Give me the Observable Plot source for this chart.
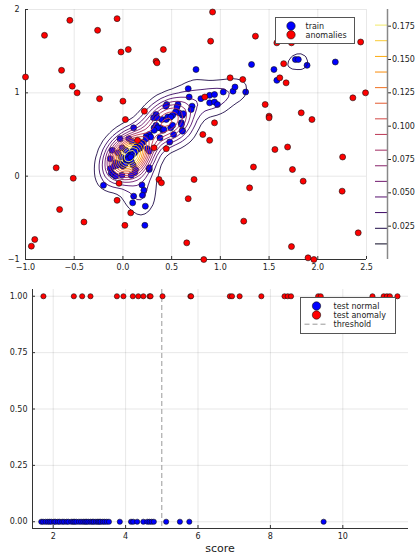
<!DOCTYPE html>
<html><head><meta charset="utf-8">
<script src="https://cdn.jsdelivr.net/npm/d3@7"></script>
<script src="https://cdn.jsdelivr.net/npm/@observablehq/plot@0.6"></script>
<style>
body{margin:0;background:#fff;font-family:"DejaVu Sans",sans-serif;}
#wrap{position:relative;width:417px;height:555px;overflow:hidden;}
.abs{position:absolute;left:0;top:0;}
.legend{position:absolute;border:1px solid #555;background:#fff;box-sizing:border-box;}
.legend svg{display:block;}
</style></head><body><div id="wrap"></div>
<script>
// ---------- data ----------
const trainPts = [
 [0.75,1.28],[0.67,1.05],[0.68,0.95],[0.80,0.93],[0.89,0.97],[0.45,0.86],[0.44,0.84],[0.565,0.86],[0.71,0.84],[0.70,0.80],
 [0.61,0.73],[0.575,0.76],[0.48,0.71],[0.34,0.74],[0.315,0.70],[0.40,0.68],[0.60,0.64],[0.61,0.55],[0.11,0.58],[-0.03,0.45],
 [0.38,0.58],[0.41,0.55],[0.38,0.46],[0.49,0.58],[0.27,0.50],[0.24,0.48],[0.32,0.58],[1.32,1.34],[1.55,1.28],[1.58,1.15],
 [1.77,1.40],[1.80,1.40],[1.89,1.33],[2.18,1.37],[1.03,1.01],[1.13,1.02],[1.15,1.07],[1.26,1.01],[0.94,0.98],[0.89,0.88],
 [0.94,0.89],[0.97,0.86],[0.555,0.83],[0.54,0.77],[0.51,0.73],[0.445,0.68],[0.62,0.75],[0.35,0.70],[0.34,0.61],[0.42,0.56],
 [0.52,0.50],[0.48,0.41],[-0.20,-0.11],[0.195,-0.105],[0.27,0.08],[0.11,-0.24],[0.10,-0.32],[0.23,-0.36],[0.225,-0.59],[-0.11,0.31],
 [-0.13,0.21],[-0.13,0.09],[-0.12,0.04],[-0.10,0.02],[-0.075,0.16],[-0.09,0.12],[-0.055,0.13],[-0.035,0.15],[-0.02,0.23],[-0.05,0.28],
 [-0.01,0.34],[0.05,0.22],[0.06,0.21],[0.075,0.19],[0.03,0.21],[0.035,0.19],[0.09,0.17],[0.105,0.13],[0.13,0.08],[0.12,0.04],
 [0.085,0.01],[-0.01,0.01],[-0.075,0.0],[0.14,0.36],[0.16,0.36],[0.18,0.34],[0.165,0.33],[0.25,0.33],[0.27,0.30],[0.285,0.47],
 [0.355,0.58],[0.32,0.55],[0.46,0.71],[0.49,0.71],[0.61,0.54],[0.60,0.62],[0.51,0.61],[0.27,0.10],[0.06,0.45],[0.09,0.42],
 [0.03,0.31],[0.215,-0.17],[0.20,-0.23],[0.08,0.27],[0.10,0.30],[0.07,0.25],[0.12,0.33],[0.05,0.24],
 [0.0,0.12],[0.03,0.16],[0.06,0.20],[0.09,0.24],[0.12,0.28],[0.15,0.32],[0.18,0.37],[0.21,0.41],[0.24,0.45],[0.04,0.18],
 [0.07,0.22],[0.10,0.26],[0.13,0.30],[0.02,0.14],[0.16,0.34],[0.05,0.20],[0.08,0.23],[0.19,0.39]
];
const anomalyPts = [
 [-1.0,1.19],[-0.805,1.69],[-0.545,1.87],[-0.63,1.27],[-0.52,1.08],[-0.47,1.00],[-0.26,1.75],[-0.24,0.93],[-0.06,1.89],[-0.02,1.49],
 [0.055,1.52],[0.0,0.90],[0.025,0.68],[0.22,0.78],[0.34,1.38],[0.35,1.36],[0.415,1.52],[0.15,0.43],[0.82,0.50],[0.90,1.62],
 [0.84,0.95],[0.92,1.97],[1.36,1.68],[1.58,1.60],[1.73,1.60],[2.44,1.61],[1.65,1.35],[1.10,1.18],[1.23,1.16],[1.61,1.18],
 [1.675,1.12],[2.36,0.94],[2.49,1.00],[1.46,0.86],[1.50,0.72],[1.50,0.70],[1.83,0.76],[1.94,0.68],[0.94,0.64],[0.89,0.43],
 [-0.685,0.10],[-0.51,-0.025],[-0.65,-0.40],[-0.40,-0.55],[-0.905,-0.76],[-0.94,-0.84],[-0.06,-0.29],[-0.04,-0.085],[0.08,-0.44],[0.02,-0.59],
 [0.32,0.34],[0.445,0.33],[0.37,-0.04],[0.395,-0.08],[0.73,-0.04],[0.67,-0.27],[0.655,-0.80],[0.83,-1.0],[1.56,0.32],[1.69,0.35],
 [2.255,0.23],[1.34,0.11],[1.74,0.08],[1.85,-0.06],[1.30,-0.14],[2.25,-0.18],[1.24,-0.54],[2.415,-0.68],[1.73,-0.845],[1.90,-0.98],[1.96,-1.0]
];
const densityLevels = [0.0117,0.0234,0.0352,0.0469,0.0586,0.0703,0.082,0.0938,0.1055,0.1172,0.1289,0.1406,0.1523,0.1641,0.1758];
const colorbarTicks = [0.025,0.05,0.075,0.1,0.125,0.15,0.175];
const topXTicks = [-1,-0.5,0,0.5,1,1.5,2,2.5];
const topYTicks = [-1,0,1,2];

const testNormalScores = [1.67,1.72,1.79,1.85,1.90,1.95,2.02,2.06,2.13,2.18,2.25,2.30,2.37,2.42,2.50,2.55,2.59,2.64,2.71,2.77,
 2.83,2.88,2.92,2.97,3.03,3.08,3.12,3.18,3.23,3.27,3.31,3.37,3.42,3.48,3.54,3.84,4.15,4.21,4.32,4.49,4.60,4.66,4.72,4.78,5.12,5.50,5.76,9.47];
const testAnomalyScores = [1.73,2.57,2.80,3.03,3.76,3.94,4.20,4.35,4.49,4.66,4.69,5.02,5.79,5.81,6.88,6.94,7.15,7.75,8.39,8.48,8.57,9.32,9.39,10.82,11.13,11.22,11.30,11.51];
const threshold = [5.0];
const bottomXTicks = [2,4,6,8,10];
const bottomYTicks = [0,0.25,0.5,0.75,1];

// ---------- drawing ----------
const wrap = document.getElementById("wrap");
const font = {fontFamily:"DejaVu Sans", fontSize:"8px", color:"#222", background:"transparent", overflow:"visible"};
const cmax = 0.1875;
const lo = densityLevels[0]/cmax, hi = densityLevels[densityLevels.length-1]/cmax;

const topPlot = Plot.plot({
  width:417, height:285, marginLeft:25, marginRight:51, marginTop:9, marginBottom:26,
  style:font,
  x:{domain:[-1,2.5], ticks:topXTicks, tickFormat:d3.format(".1f"), tickSize:0, tickPadding:5, grid:true, label:null},
  y:{domain:[-1,2], ticks:topYTicks, tickFormat:d3.format("d"), tickSize:0, tickPadding:6, grid:true, label:null},
  color:{type:"linear", interpolate:t=>d3.interpolateInferno(lo+(hi-lo)*t)},
  marks:[
    Plot.ruleX(topXTicks,{x:d=>d, y1:-1, y2:-1, insetBottom:3, stroke:"#333"}),
    Plot.ruleY(topYTicks,{y:d=>d, x1:-1, x2:-1, insetRight:-3, stroke:"#333"}),
    Plot.ruleX([-1],{stroke:"#333"}),
    Plot.ruleY([-1],{stroke:"#333"}),
    Plot.dot(trainPts,{x:d=>d[0], y:d=>d[1], r:3, fill:"#0000ff", stroke:"#111", strokeWidth:0.6}),
    Plot.density(trainPts,{x:d=>d[0], y:d=>d[1], bandwidth:9, thresholds:15, stroke:"density", strokeWidth:0.9}),
    Plot.dot(anomalyPts,{x:d=>d[0], y:d=>d[1], r:3, fill:"#ff0000", stroke:"#111", strokeWidth:0.6})
  ]
});
topPlot.classList.add("abs");
wrap.appendChild(topPlot);

const cbar = Plot.plot({
  width:51, height:285, marginLeft:9, marginRight:30, marginTop:9, marginBottom:26,
  style:font,
  x:{domain:[0,1], axis:null},
  y:{domain:[0,cmax], axis:"right", ticks:colorbarTicks, tickFormat:d3.format(".3f"), tickSize:3, tickPadding:1.5, label:null},
  color:{type:"linear", domain:[0,cmax], interpolate:d3.interpolateInferno},
  marks:[
    Plot.ruleY(densityLevels,{y:d=>d, stroke:d=>d, strokeWidth:1}),
    Plot.ruleX([1],{stroke:"#888", strokeWidth:1.5})
  ]
});
cbar.classList.add("abs");
cbar.style.left = "366px";
wrap.appendChild(cbar);

const bottomPlot = Plot.plot({
  width:417, height:270, marginLeft:32, marginRight:9, marginTop:4, marginBottom:27,
  style:font,
  x:{domain:[1.428,11.815], ticks:bottomXTicks, tickFormat:d3.format("d"), tickSize:0, tickPadding:5, grid:true, label:null},
  y:{domain:[-0.03,1.03], ticks:bottomYTicks, tickFormat:d3.format(".2f"), tickSize:0, tickPadding:5, grid:true, label:null},
  marks:[
    Plot.ruleX(bottomXTicks,{x:d=>d, y1:-0.03, y2:-0.03, insetBottom:3, stroke:"#333"}),
    Plot.ruleY(bottomYTicks,{y:d=>d, x1:1.428, x2:1.428, insetRight:-3, stroke:"#333"}),
    Plot.ruleX([1.428],{stroke:"#333"}),
    Plot.ruleY([-0.03],{stroke:"#333"}),
    Plot.ruleX(threshold,{x:d=>d, stroke:"#999", strokeDasharray:"5,3", strokeWidth:1}),
    Plot.dot(testNormalScores,{x:d=>d, y:()=>0, r:2.6, fill:"#0000ff", stroke:"#111", strokeWidth:0.6}),
    Plot.dot(testAnomalyScores,{x:d=>d, y:()=>1, r:2.6, fill:"#ff0000", stroke:"#111", strokeWidth:0.6})
  ]
});
bottomPlot.classList.add("abs");
bottomPlot.style.top = "285px";
wrap.appendChild(bottomPlot);

// x label
const xl = document.createElement("div");
xl.textContent = "score";
Object.assign(xl.style,{position:"absolute", left:"170px", width:"100px", top:"542px", textAlign:"center", fontSize:"11px", color:"#222", fontFamily:"DejaVu Sans"});
wrap.appendChild(xl);

// legends
function legend(left, top, w, h, items){
  const div = document.createElement("div");
  div.className = "legend";
  Object.assign(div.style,{left:left+"px", top:top+"px", width:w+"px", height:h+"px"});
  const ns = "http://www.w3.org/2000/svg";
  const svg = document.createElementNS(ns,"svg");
  svg.setAttribute("width", w-2); svg.setAttribute("height", h-2);
  for (const it of items){
    if (it.type === "dot"){
      const c = document.createElementNS(ns,"circle");
      c.setAttribute("cx", it.mx); c.setAttribute("cy", it.y); c.setAttribute("r", 4.2);
      c.setAttribute("fill", it.color); c.setAttribute("stroke","#111"); c.setAttribute("stroke-width","0.6");
      svg.appendChild(c);
    } else {
      const l = document.createElementNS(ns,"line");
      l.setAttribute("x1", it.lx1); l.setAttribute("x2", it.lx2); l.setAttribute("y1", it.y); l.setAttribute("y2", it.y);
      l.setAttribute("stroke","#999"); l.setAttribute("stroke-dasharray","5,3");
      svg.appendChild(l);
    }
    const t = document.createElementNS(ns,"text");
    t.setAttribute("x", it.tx); t.setAttribute("y", it.y);
    t.setAttribute("dy","0.35em");
    t.setAttribute("font-size","8px"); t.setAttribute("font-family","DejaVu Sans"); t.setAttribute("fill","#222");
    t.textContent = it.label;
    svg.appendChild(t);
  }
  div.appendChild(svg);
  wrap.appendChild(div);
}
legend(275, 17, 80, 27, [
  {type:"dot", mx:15, y:8, color:"#0000ff", tx:29.5, label:"train"},
  {type:"dot", mx:15, y:16.8, color:"#ff0000", tx:29.5, label:"anomalies"}
]);
legend(300, 297, 96, 37, [
  {type:"dot", mx:15.5, y:8, color:"#0000ff", tx:32.5, label:"test normal"},
  {type:"dot", mx:15.5, y:17, color:"#ff0000", tx:32.5, label:"test anomaly"},
  {type:"line", lx1:3.5, lx2:27, y:26.2, tx:32.5, label:"threshold"}
]);
</script>
</body></html>
